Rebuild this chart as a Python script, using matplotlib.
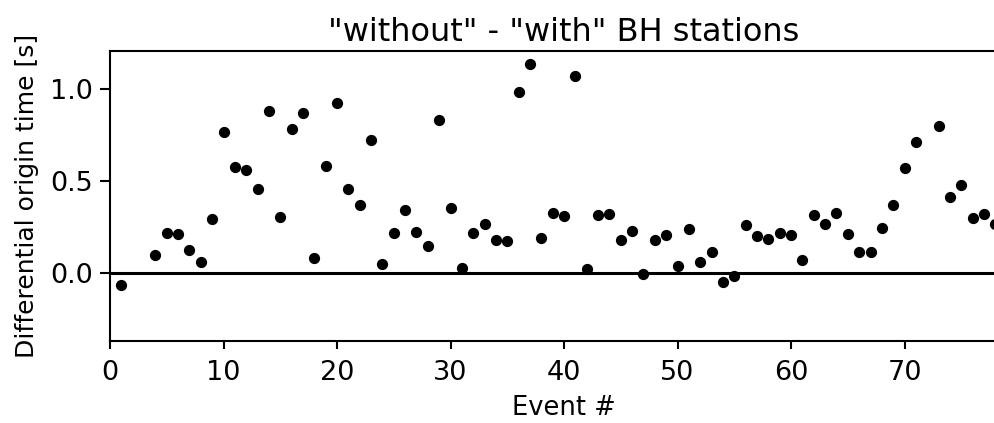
import matplotlib
matplotlib.use("Agg")
import matplotlib.pyplot as plt

# Event numbers and differential origin times ("without" minus "with" BH stations)
events = [1, 4, 5, 6, 7, 8, 9, 10, 11, 12, 13, 14, 15, 16, 17, 18, 19, 20,
          21, 22, 23, 24, 25, 26, 27, 28, 29, 30, 31, 32, 33, 34, 35, 36, 37,
          38, 39, 40, 41, 42, 43, 44, 45, 46, 47, 48, 49, 50, 51, 52, 53, 54,
          55, 56, 57, 58, 59, 60, 61, 62, 63, 64, 65, 66, 67, 68, 69, 70, 71,
          73, 74, 75, 76, 77, 78]
dt = [-0.062, 0.100, 0.222, 0.216, 0.125, 0.060, 0.297, 0.766, 0.576, 0.564,
      0.458, 0.880, 0.305, 0.787, 0.872, 0.084, 0.585, 0.927, 0.458, 0.371,
      0.725, 0.053, 0.218, 0.342, 0.227, 0.147, 0.834, 0.353, 0.031, 0.220,
      0.266, 0.182, 0.178, 0.984, 1.138, 0.193, 0.327, 0.311, 1.073, 0.024,
      0.318, 0.325, 0.182, 0.233, -0.003, 0.182, 0.209, 0.042, 0.240, 0.064,
      0.118, -0.044, -0.016, 0.264, 0.204, 0.187, 0.222, 0.211, 0.075, 0.315,
      0.271, 0.329, 0.213, 0.117, 0.117, 0.249, 0.371, 0.571, 0.716, 0.800,
      0.417, 0.482, 0.300, 0.322, 0.271]

plt.rcParams['font.family'] = ['DejaVu Sans']
plt.rcParams['font.size'] = 18

fig = plt.figure(figsize=(9.94, 4.23), dpi=100)
ax = fig.add_axes([0.1107, 0.194, 0.9135, 0.686])

ax.axhline(0, color='black', linewidth=2.2, zorder=1)
ax.scatter(events, dt, s=50, color='black', zorder=2)

ax.set_xlim(0, 80)
ax.set_ylim(-0.367, 1.21)
ax.set_xticks([0, 10, 20, 30, 40, 50, 60, 70])
ax.set_yticks([0.0, 0.5, 1.0])
ax.set_yticklabels(['0.0', '0.5', '1.0'])

for sp in ax.spines.values():
    sp.set_linewidth(1.5)
ax.tick_params(axis='x', direction='out', length=6, width=1.5, pad=7.5,
               labelsize=19.5)
ax.tick_params(axis='y', direction='out', length=7, width=1.5, pad=5,
               labelsize=19.5)

ax.set_xlabel('Event #', fontsize=18.5, labelpad=7)
ax.set_ylabel('Differential origin time [s]', fontsize=18, labelpad=8)
ax.set_title('"without" - "with" BH stations', fontsize=23, pad=7)

fig.savefig('out.png', dpi=100)
